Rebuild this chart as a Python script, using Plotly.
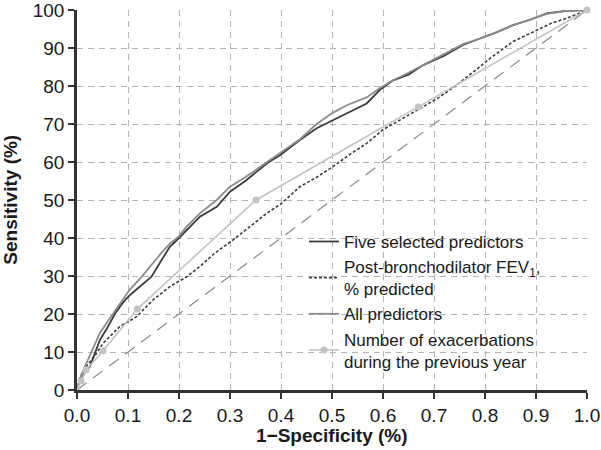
import plotly.graph_objects as go

# Five selected predictors (dark)
five_fpr = [0, 0.005, 0.015, 0.025, 0.045, 0.06, 0.075, 0.09, 0.104, 0.125, 0.146, 0.165, 0.182, 0.2, 0.215,
            0.241, 0.274, 0.3, 0.33, 0.372, 0.4, 0.437, 0.47, 0.502, 0.53, 0.568, 0.594, 0.62, 0.65, 0.679,
            0.72, 0.757, 0.79, 0.82, 0.855, 0.89, 0.921, 0.96, 1.0]
five_sens = [0, 2, 4.5, 6.1, 13.2, 16.5, 20.2, 23, 25, 27.5, 29.8, 34, 37.7, 40, 42,
             45.6, 48.2, 52.2, 55, 59.6, 62, 65.8, 68.9, 71, 73, 75.4, 79, 81.5, 83, 85.5,
             88, 90.8, 92.5, 94, 96, 97.5, 99.1, 99.8, 100]

# All predictors (medium grey)
all_fpr = [0, 0.005, 0.015, 0.025, 0.045, 0.06, 0.075, 0.09, 0.104, 0.125, 0.146, 0.165, 0.182, 0.2, 0.215,
           0.241, 0.274, 0.3, 0.33, 0.372, 0.4, 0.437, 0.47, 0.502, 0.53, 0.568, 0.594, 0.62, 0.65, 0.679,
           0.72, 0.757, 0.79, 0.82, 0.855, 0.89, 0.921, 0.96, 1.0]
all_sens = [0, 2.5, 6, 9, 15, 18, 21, 24, 26.5, 29.5, 33, 36, 38.5, 40.5, 43,
            46.5, 50, 53.5, 56, 60, 62.5, 66, 70, 73, 75, 77, 79.5, 81.5, 83.5, 85.5,
            88.5, 91, 92.5, 94, 96, 97.5, 99, 99.8, 100]

# Post-bronchodilator FEV1 % predicted (dotted)
fev_fpr = [0, 0.006, 0.02, 0.035, 0.051, 0.084, 0.117, 0.149, 0.182, 0.215, 0.241, 0.27, 0.306, 0.34,
           0.372, 0.4, 0.437, 0.47, 0.502, 0.535, 0.568, 0.6, 0.64, 0.673, 0.71, 0.745, 0.78, 0.81,
           0.855, 0.894, 0.93, 0.96, 1.0]
fev_sens = [0, 3.5, 6.5, 9, 12.3, 16.7, 19.3, 23.7, 27.2, 29.8, 32.5, 36, 39.5, 43,
            46.5, 49, 53.5, 56, 58.8, 62, 64.9, 68.5, 71.5, 74.1, 77, 80.3, 84, 87.3,
            91.7, 94.3, 96.5, 97.8, 100]

# Number of exacerbations during the previous year (light grey with markers)
exa_fpr = [0, 0.008, 0.018, 0.051, 0.118, 0.351, 0.669, 1.0]
exa_sens = [0, 2.4, 5.3, 10.3, 21.3, 50, 74.5, 100]

# Reference diagonal
diag_x = [0, 1]
diag_y = [0, 100]

x_ticks = [0, 0.1, 0.2, 0.3, 0.4, 0.5, 0.6, 0.7, 0.8, 0.9, 1.0]
y_ticks = [0, 10, 20, 30, 40, 50, 60, 70, 80, 90, 100]

FONT = "Liberation Sans, Arial, sans-serif"

fig = go.Figure()
fig.add_trace(go.Scatter(x=diag_x, y=diag_y, mode="lines", showlegend=False,
                         line=dict(color="#8a8a8a", width=1.2, dash="12px,8px"), hoverinfo="skip"))
fig.add_trace(go.Scatter(x=five_fpr, y=five_sens, mode="lines", name="Five selected predictors",
                         line=dict(color="#3c3c3c", width=1.8)))
fig.add_trace(go.Scatter(x=fev_fpr, y=fev_sens, mode="lines",
                         name="Post-bronchodilator FEV<sub>1</sub>,<br>% predicted",
                         line=dict(color="#3c3c3c", width=1.6, dash="3px,2px")))
fig.add_trace(go.Scatter(x=all_fpr, y=all_sens, mode="lines", name="All predictors",
                         line=dict(color="#8c8c8c", width=1.8)))
fig.add_trace(go.Scatter(x=exa_fpr, y=exa_sens, mode="lines+markers",
                         name="Number of exacerbations<br>during the previous year",
                         line=dict(color="#c4c4c4", width=1.6),
                         marker=dict(color="#c4c4c4", size=7), cliponaxis=False))

grid = dict(showgrid=True, gridcolor="#b4b4b4", griddash="6px,5px", gridwidth=1.3)

fig.update_layout(
    width=601, height=450,
    margin=dict(l=77, r=14, t=10, b=60, autoexpand=False),
    paper_bgcolor="white", plot_bgcolor="white",
    font=dict(family=FONT, size=18, color="#1a1a1a"),
    legend=dict(x=0.445, y=0.437, xanchor="left", yanchor="top",
                bgcolor="rgba(0,0,0,0)", font=dict(size=17, family=FONT, color="#1a1a1a"),
                tracegroupgap=0, itemwidth=30),
    xaxis=dict(range=[0, 1], tickvals=x_ticks, tickformat=".1f", automargin=False,
               ticklabeloverflow="allow",
               showline=True, linecolor="#333333", linewidth=2.5,
               ticks="outside", ticklen=6, tickcolor="#333333", tickwidth=1.5,
               zeroline=False, tickfont=dict(size=19), **grid),
    yaxis=dict(range=[0, 100], tickvals=y_ticks, automargin=False,
               ticklabeloverflow="allow",
               showline=True, linecolor="#333333", linewidth=2.5,
               ticks="outside", ticklen=6, tickcolor="#333333", tickwidth=1.5,
               zeroline=False, tickfont=dict(size=19), **grid),
    annotations=[
        dict(text="<b>1−Specificity (%)</b>", xref="paper", yref="paper", x=0.5, y=-0.12,
             xanchor="center", yanchor="middle", showarrow=False, font=dict(size=19)),
        dict(text="<b>Sensitivity (%)</b>", xref="paper", yref="paper", x=-0.132, y=0.5,
             xanchor="center", yanchor="middle", showarrow=False, textangle=-90, font=dict(size=19)),
    ],
)

fig.write_html("out.html", config={"displayModeBar": False},
               post_script="document.body.style.margin='0';")
